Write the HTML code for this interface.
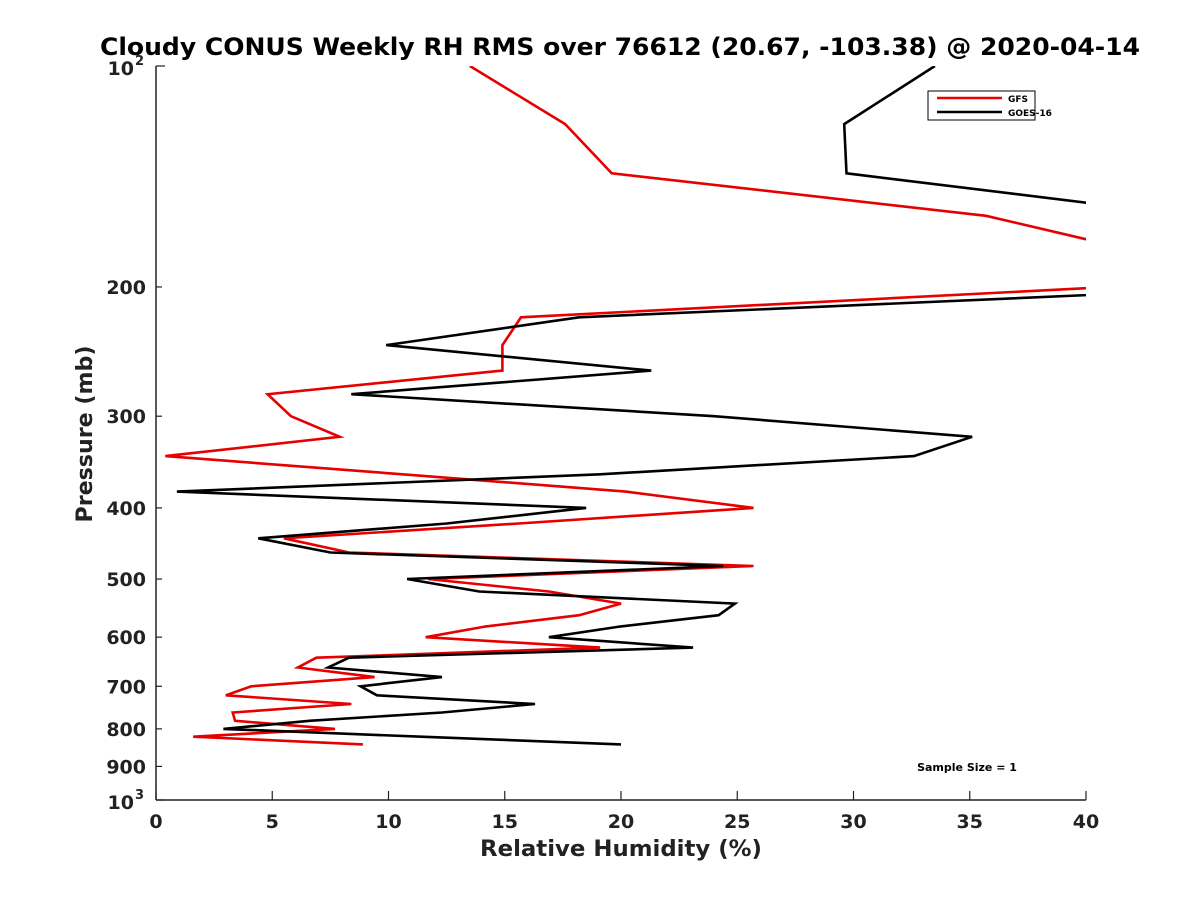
<!DOCTYPE html>
<html><head><meta charset="utf-8"><style>
body{margin:0;background:#fff;}
svg{font-family:"DejaVu Sans","Liberation Sans",sans-serif;}
</style></head><body>
<svg id="chart" width="1200" height="900" viewBox="0 0 1200 900">
<defs><clipPath id="clip"><rect x="156" y="66" width="930" height="734"/></clipPath></defs>
<rect width="1200" height="900" fill="#fff"/>
<text x="620" y="55" text-anchor="middle" font-size="24" font-weight="bold" textLength="1040" lengthAdjust="spacingAndGlyphs">Cloudy CONUS Weekly RH RMS over 76612 (20.67, -103.38) @ 2020-04-14</text>
<g id="axes"></g>
<g id="series" clip-path="url(#clip)"></g>
<text x="621" y="856" text-anchor="middle" font-size="22" font-weight="bold" fill="#222" textLength="282" lengthAdjust="spacingAndGlyphs">Relative Humidity (%)</text>
<text transform="translate(92,434) rotate(-90)" text-anchor="middle" font-size="22" font-weight="bold" fill="#222" textLength="177" lengthAdjust="spacingAndGlyphs">Pressure (mb)</text>
<g>
<rect x="928" y="91" width="107" height="29" fill="#fff" stroke="#000" stroke-width="1"/>
<line x1="937" y1="98" x2="1002" y2="98" stroke="#e00" stroke-width="2.5"/>
<text x="1008" y="102" font-size="9" font-weight="bold">GFS</text>
<line x1="937" y1="112" x2="1002" y2="112" stroke="#000" stroke-width="2.5"/>
<text x="1008" y="116" font-size="9" font-weight="bold">GOES-16</text>
</g>
<text x="967" y="771" text-anchor="middle" font-size="11" font-weight="bold">Sample Size = 1</text>
</svg>
<script>
const pressures=[100,120,140,160,180,200,220,240,260,280,300,320,340,360,380,400,420,440,460,480,500,520,540,560,580,600,620,640,660,680,700,720,740,760,780,800,820,840];
const gfsRH=[13.5,17.6,19.6,35.7,42.6,41,15.7,14.9,14.9,4.8,5.8,7.9,0.4,10.6,20.2,25.7,15.6,5.5,8.3,25.7,11.7,16.9,20.0,18.2,14.2,11.6,19.1,6.9,6.1,9.4,4.1,3.0,8.4,3.3,3.4,7.7,1.6,8.9];
const goesRH=[33.5,29.6,29.7,44.6,60,48,18.2,9.9,21.3,8.4,24.0,35.1,32.6,19.1,0.9,18.5,12.5,4.4,7.5,24.4,10.8,13.9,24.9,24.2,20.0,16.9,23.1,8.3,7.4,12.3,8.8,9.5,16.3,12.3,6.6,2.9,11.4,20.0];
const xTicks=[0,5,10,15,20,25,30,35,40];
const yMinor=[200,300,400,500,600,700,800,900];
const NS="http://www.w3.org/2000/svg";
const X0=156,X1=1086,Y0=66,Y1=800;
function xs(v){return X0+(v/40)*(X1-X0);}
function ys(p){return Y0+(Math.log10(p)-2)*(Y1-Y0);}
function mk(tag,attrs,parent){const e=document.createElementNS(NS,tag);for(const k in attrs)e.setAttribute(k,attrs[k]);parent.appendChild(e);return e;}
const ax=document.getElementById('axes');
const xl=mk('line',{x1:X0,y1:Y1,x2:X1,y2:Y1,stroke:'#222','stroke-width':1.5},ax);


const yl=mk('line',{x1:X0,y1:Y0,x2:X0,y2:Y1,stroke:'#222','stroke-width':1.5},ax);


xTicks.forEach(v=>{
  mk('line',{x1:xs(v),y1:Y1,x2:xs(v),y2:Y1-9,stroke:'#222','stroke-width':1.2},ax);
  const t=mk('text',{x:xs(v),y:Y1+28,'text-anchor':'middle','font-size':19,'font-weight':'bold',fill:'#222'},ax);
  t.textContent=v;
  
  
});
yMinor.forEach(p=>{
  mk('line',{x1:X0,y1:ys(p),x2:X0+6,y2:ys(p),stroke:'#222','stroke-width':1.2},ax);
  const t=mk('text',{x:X0-10,y:ys(p)+7,'text-anchor':'end','font-size':19,'font-weight':'bold',fill:'#222'},ax);
  t.textContent=p;
  
  
});
[[100,'2'],[1000,'3']].forEach(([p,e])=>{
  mk('line',{x1:X0,y1:ys(p),x2:X0+9,y2:ys(p),stroke:'#222','stroke-width':1.2},ax);
  const t=mk('text',{x:X0-22,y:ys(p)+9,'text-anchor':'end','font-size':19,'font-weight':'bold',fill:'#222'},ax);
  t.textContent='10';
  
  
  const s=mk('text',{x:X0-21,y:ys(p)-1,'text-anchor':'start','font-size':13,'font-weight':'bold',fill:'#222'},ax);
  s.textContent=e;
  
  
});
const sg=document.getElementById('series');
function line(vals,color,name){
  const pts=vals.map((v,i)=>xs(v).toFixed(1)+','+ys(pressures[i]).toFixed(1)).join(' ');
  const pl=mk('polyline',{points:pts,fill:'none',stroke:color,'stroke-width':2.6,'stroke-linejoin':'miter'},sg);
  
  
}
line(gfsRH,'#e60000','gfs-line');
line(goesRH,'#000','goes16-line');
</script>
</body></html>
